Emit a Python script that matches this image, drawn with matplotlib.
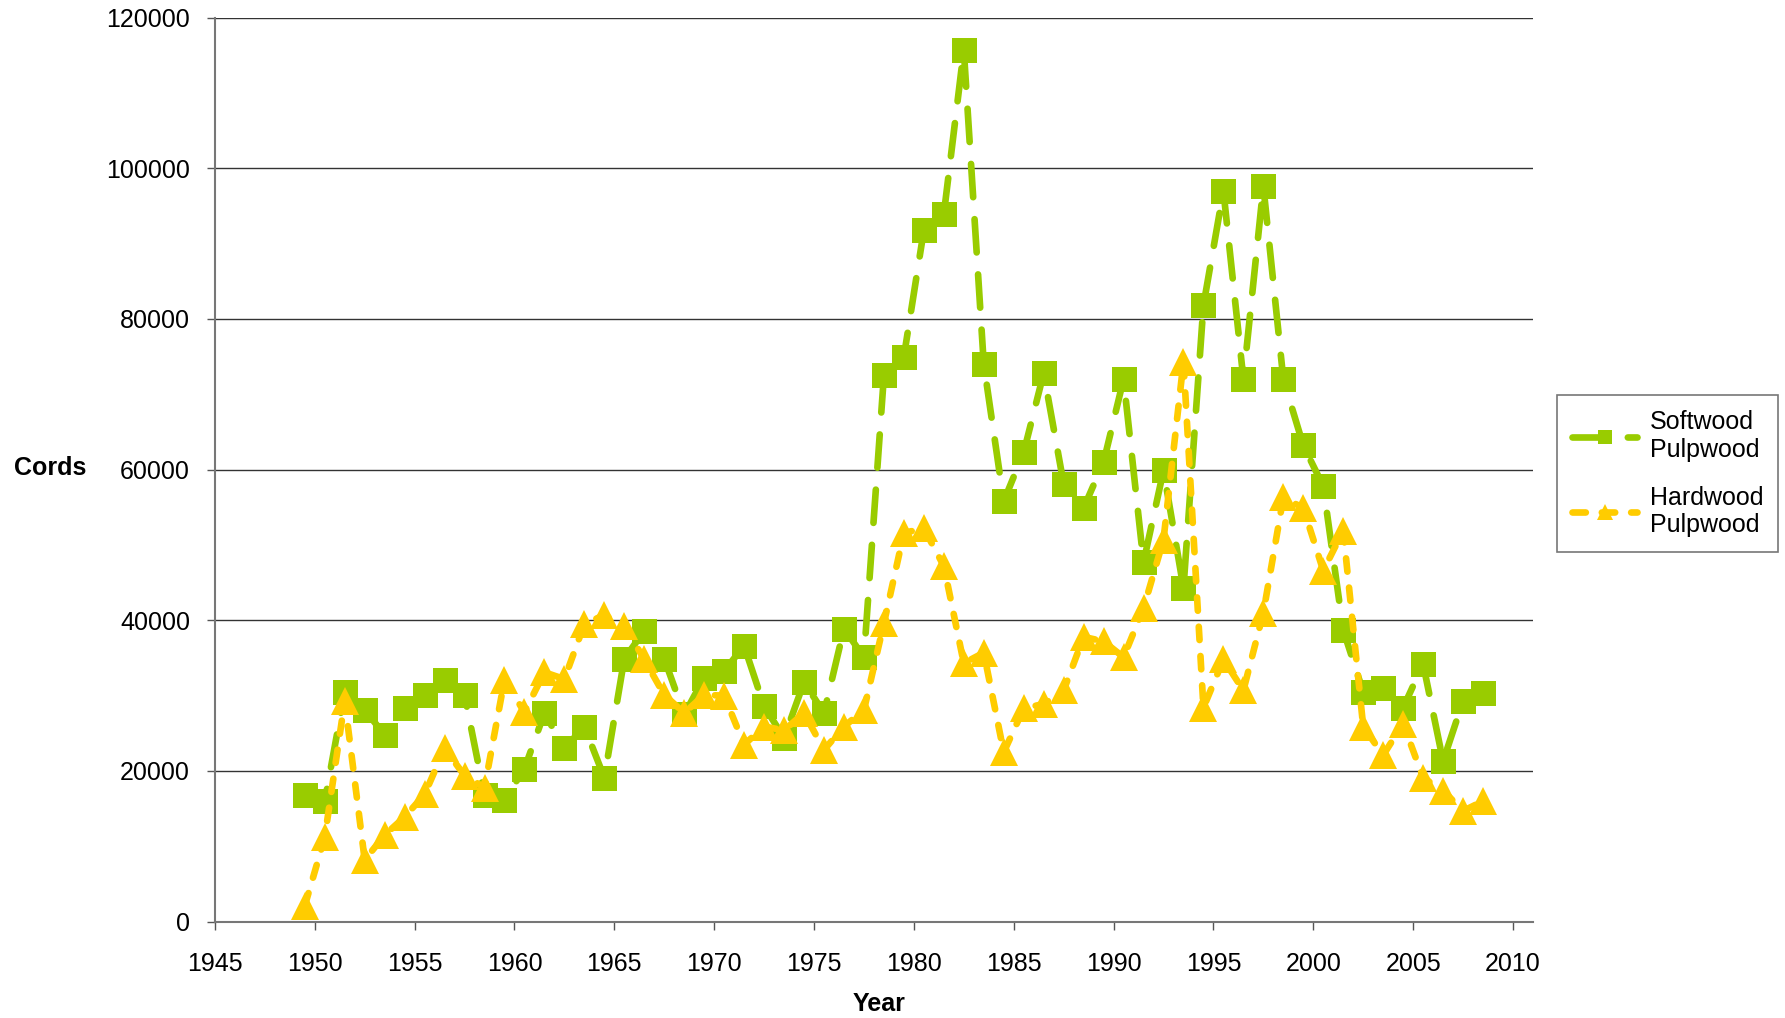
import numpy as np
import matplotlib
matplotlib.use("Agg")
import matplotlib.pyplot as plt

plt.rcParams["font.family"] = ["Liberation Sans", "DejaVu Sans"]

# mid-year points, 1949-2008
years = np.arange(1949, 2009) + 0.5

softwood = [
    16800, 16000, 30500, 28100, 24800, 28300, 30100, 32100, 30100, 16800,
    16200, 20300, 27700, 23000, 25900, 19100, 34900, 38600, 34900, 27500,
    32400, 33300, 36600, 28600, 24400, 31800, 27700, 38900, 35100, 72500,
    75000, 91800, 93900, 115700, 74000, 55800, 62300, 72800, 58100, 54900,
    61000, 72000, 47700, 59900, 44300, 81800, 97000, 72000, 97600, 72000,
    63200, 57800, 38700, 30500, 31000, 28400, 34200, 21300, 29300, 30400,
]

hardwood = [
    2100, 11200, 29300, 8200, 11500, 13900, 16900, 23000, 19400, 17800,
    32100, 27800, 33100, 32200, 39500, 40700, 39300, 34800, 30100, 27700,
    30100, 30000, 23500, 25900, 25400, 27700, 22800, 25900, 28100, 39600,
    51600, 52200, 47200, 34300, 35700, 22500, 28300, 28900, 30700, 37800,
    37200, 35100, 41600, 50700, 74300, 28400, 34800, 30700, 41000, 56300,
    54900, 46600, 51900, 25900, 22100, 26300, 19100, 17400, 14700, 16000,
]

green = "#99CC00"
gold = "#FFCC00"

fig = plt.figure(figsize=(17.85, 10.18), dpi=100)
ax = fig.add_axes([0.1204, 0.0946, 0.7384, 0.8882])

ax.plot(years, softwood, color=green, lw=4.8, dashes=(5, 3.3),
        dash_capstyle="round", marker="s", markersize=18,
        markeredgewidth=0, label="Softwood\nPulpwood", zorder=3)
ax.plot(years, hardwood, color=gold, lw=4.8, dashes=(2, 2.4),
        dash_capstyle="round", marker="^", markersize=20,
        markeredgewidth=0, label="Hardwood\nPulpwood", zorder=4)

ax.set_xlim(1945, 2011)
ax.set_ylim(0, 120000)
ax.set_xticks(np.arange(1945, 2011, 5))
ax.set_yticks(np.arange(0, 120001, 20000))
ax.tick_params(labelsize=18, direction="out", length=6, width=1, color="#555555")
ax.tick_params(axis="y", pad=12)
ax.tick_params(axis="x", pad=16)

ax.yaxis.grid(True, color="#333333", lw=1)
ax.set_axisbelow(True)
for s in ["top", "right"]:
    ax.spines[s].set_visible(False)
for s in ["left", "bottom"]:
    ax.spines[s].set_color("#777777")
    ax.spines[s].set_linewidth(1.5)

fig.text(0.028, 0.540, "Cords", fontsize=18, fontweight="bold", ha="center", va="center")
fig.text(0.4925, 0.0135, "Year", fontsize=18, fontweight="bold", ha="center", va="center")

leg = ax.legend(loc="upper left", bbox_to_anchor=(0.8723, 0.612),
                bbox_transform=fig.transFigure, fontsize=18, frameon=True,
                fancybox=False, edgecolor="#555555", borderaxespad=0,
                handlelength=2.6, labelspacing=0.95, borderpad=0.6,
                handletextpad=0.5, markerscale=0.55)
leg.get_frame().set_linewidth(1.2)

fig.savefig("out.png", dpi=100)
